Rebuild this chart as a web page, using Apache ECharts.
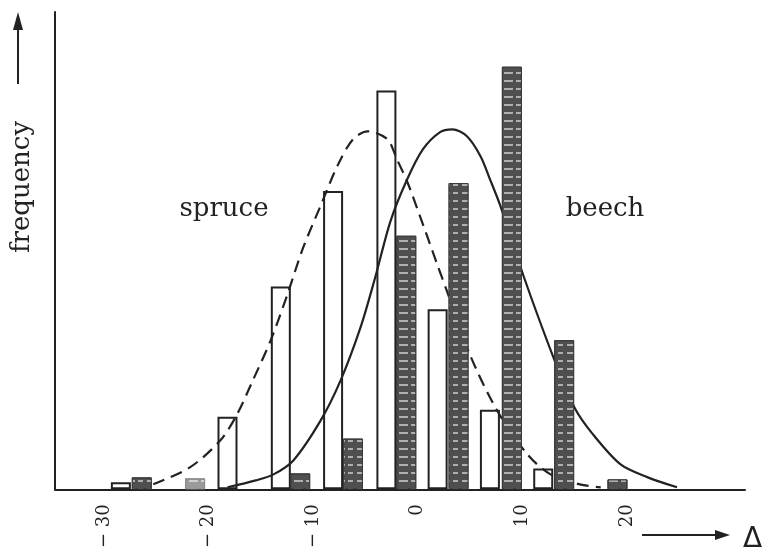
<!DOCTYPE html>
<html>
<head>
<meta charset="utf-8">
<title>spruce / beech</title>
<script src="https://cdn.jsdelivr.net/npm/echarts@6/dist/echarts.min.js"></script>
<style>
    html, body { margin: 0; padding: 0; background: #fff; }
    #chart { width: 763px; height: 551px; }
</style>
</head>
<body>
<div id="chart"></div>
<script>
// x-axis tick labels
var xTicks = [-30, -20, -10, 0, 10, 20];

// spruce histogram (white bars): bar centre, frequency
var spruceX = [-28.4, -18.2, -13.1, -8.1, -3.0, 1.9, 6.9, 12.0];
var spruceFreq = [0.7, 7.3, 20.4, 30.0, 40.1, 18.1, 8.0, 2.1];

// beech histogram (dark bars)
var beechX = [-26.4, -21.3, -11.25, -6.2, -1.1, 3.9, 9.0, 14.0, 19.1];
var beechFreq = [1.2, 1.1, 1.6, 5.1, 25.5, 30.8, 42.5, 15.0, 1.0];

// spruce curve (dashed)
var spruceCurveX = [-25.3, -21.8, -18.9, -17.3, -15.8, -14.1, -12.5, -11.0, -9.3, -7.7, -6.2, -4.8,
    -2.9, -2.0, -1.0, 0.2, 1.9, 2.8, 5.0, 7.6, 10.5, 12.7, 15.5, 17.5];
var spruceCurveY = [0.5, 2.2, 4.9, 7.5, 10.9, 14.9, 19.5, 24.2, 28.5, 32.5, 35.2, 36.0,
    35.2, 33.2, 30.9, 27.5, 22.5, 19.9, 13.5, 7.9, 3.5, 1.5, 0.5, 0.2];

// beech curve (solid)
var beechCurveX = [-18.2, -15.5, -13.8, -11.9, -9.3, -7.4, -5.5, -4.1, -2.6, -1.0, 0.5, 2.1, 3.3,
    4.7, 6.0, 6.9, 7.9, 10.1, 13.0, 15.0, 16.7, 19.4, 22.0, 24.8];
var beechCurveY = [0.2, 0.9, 1.5, 2.9, 6.9, 10.9, 16.2, 21.2, 27.0, 31.2, 34.2, 35.9, 36.2,
    35.5, 33.5, 31.2, 28.5, 21.5, 13.2, 8.2, 5.6, 2.5, 1.2, 0.2];

(function () {
    function pairs(xs, ys) {
        var out = [];
        for (var i = 0; i < xs.length; i++) {
            out.push([xs[i], ys[i]]);
        }
        return out;
    }

    var ink = '#222';
    var serif = '"DejaVu Serif", "Liberation Serif", serif';

    // beech bar at about -21 is printed lighter
    var beechData = pairs(beechX, beechFreq).map(function (d, i) {
        if (i === 1) {
            return { value: d, itemStyle: { color: '#9a9a9a', borderColor: '#8a8a8a' } };
        }
        return d;
    });

    //1. 实例化对象
    var myChart = echarts.init(document.getElementById('chart'));
    //2. 指定配置和数据
    var option = {
        animation: false,
        backgroundColor: '#fff',
        grid: {
            left: 55,
            right: 18,
            top: 12,
            bottom: 59
        },
        xAxis: {
            type: 'value',
            min: -34.7,
            max: 31.3,
            axisLine: { show: true, onZero: false, lineStyle: { color: ink, width: 2 } },
            axisTick: { show: false },
            splitLine: { show: false },
            axisLabel: {
                customValues: xTicks,
                rotate: 90,
                margin: 15,
                color: ink,
                fontFamily: serif,
                fontSize: 18,
                formatter: function (v) {
                    return v < 0 ? '\u2212 ' + Math.abs(v) : String(v);
                }
            }
        },
        yAxis: {
            type: 'value',
            min: 0,
            max: 48,
            axisLine: { show: true, onZero: false, lineStyle: { color: ink, width: 2 } },
            axisTick: { show: false },
            axisLabel: { show: false },
            splitLine: { show: false }
        },
        series: [
            {
                name: 'spruce',
                type: 'bar',
                z: 1,
                barWidth: 20,
                barGap: '-100%',
                data: pairs(spruceX, spruceFreq),
                itemStyle: {
                    color: '#fff',
                    borderColor: ink,
                    borderWidth: 2
                }
            },
            {
                name: 'spruce curve',
                type: 'line',
                z: 2,
                smooth: 0.3,
                symbol: 'none',
                data: pairs(spruceCurveX, spruceCurveY),
                lineStyle: { color: ink, width: 2.2, type: [12, 7] }
            },
            {
                name: 'beech curve',
                type: 'line',
                z: 2,
                smooth: 0.3,
                symbol: 'none',
                data: pairs(beechCurveX, beechCurveY),
                lineStyle: { color: ink, width: 2.2 }
            },
            {
                name: 'beech',
                type: 'bar',
                z: 3,
                barWidth: 20,
                barGap: '-100%',
                data: beechData,
                itemStyle: {
                    color: '#4f4f4f',
                    borderColor: '#3a3a3a',
                    borderWidth: 1,
                    decal: {
                        symbol: 'rect',
                        symbolSize: 1,
                        color: 'rgba(255,255,255,0.55)',
                        dashArrayX: [[9, 3, 5, 4]],
                        dashArrayY: [2, 6],
                        rotation: 0
                    }
                }
            }
        ],
        graphic: [
            // arrow beside the y axis name
            { type: 'line', shape: { x1: 18, y1: 84, x2: 18, y2: 26 }, style: { stroke: ink, lineWidth: 2 } },
            { type: 'polygon', shape: { points: [[13, 30], [23, 30], [18, 12]] }, style: { fill: ink } },
            {
                type: 'text', x: 22, y: 187, rotation: Math.PI / 2,
                style: { text: 'frequency', fill: ink, font: '26px ' + serif, align: 'center', verticalAlign: 'middle' }
            },
            // labels of the two distributions
            {
                type: 'text', x: 224, y: 222,
                style: { text: 'spruce', fill: ink, font: '26px ' + serif, align: 'center', verticalAlign: 'bottom' }
            },
            {
                type: 'text', x: 605, y: 222,
                style: { text: 'beech', fill: ink, font: '26px ' + serif, align: 'center', verticalAlign: 'bottom' }
            },
            // arrow and delta below the x axis
            { type: 'line', shape: { x1: 642, y1: 535, x2: 718, y2: 535 }, style: { stroke: ink, lineWidth: 2 } },
            { type: 'polygon', shape: { points: [[715, 530], [715, 540], [730, 535]] }, style: { fill: ink } },
            {
                type: 'text', x: 743, y: 540,
                style: { text: '\u0394', fill: ink, font: '28px "DejaVu Sans", sans-serif', align: 'left', verticalAlign: 'middle' }
            }
        ]
    };
    //3. 把配置给实例对象
    myChart.setOption(option);
    //4. 图表适应屏幕
    window.addEventListener('resize', function () {
        myChart.resize();
    });
})();
</script>
</body>
</html>
